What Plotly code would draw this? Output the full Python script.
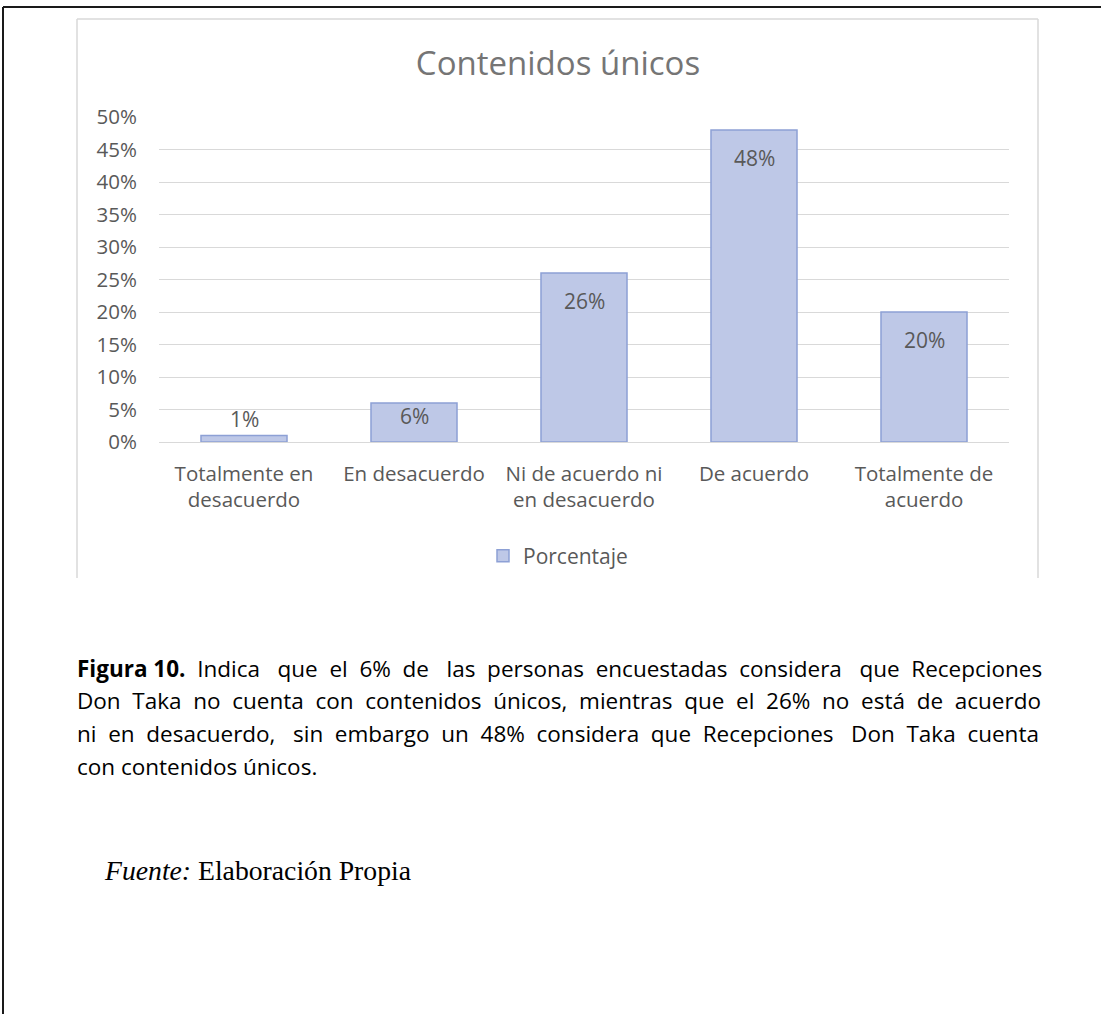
import plotly.graph_objects as go

# Survey results
categories = ["Totalmente en desacuerdo", "En desacuerdo", "Ni de acuerdo ni en desacuerdo",
              "De acuerdo", "Totalmente de acuerdo"]
tick_labels = ["Totalmente en<br>desacuerdo", "En desacuerdo", "Ni de acuerdo ni<br>en desacuerdo",
               "De acuerdo", "Totalmente de<br>acuerdo"]
porcentaje = [0.01, 0.06, 0.26, 0.48, 0.20]
y_ticks = [0, 0.05, 0.10, 0.15, 0.20, 0.25, 0.30, 0.35, 0.40, 0.45, 0.50]

title_text = "Contenidos únicos"
series_name = "Porcentaje"
caption_lines = [
    "<b>Figura 10.</b> Indica que el 6% de las personas encuestadas considera que Recepciones",
    "Don Taka no cuenta con contenidos únicos, mientras que el 26% no está de acuerdo",
    "ni en desacuerdo, sin embargo un 48% considera que Recepciones Don Taka cuenta",
    "con contenidos únicos.",
]
# extra non-breaking spaces spread over each caption line so it fills the text block
caption_padding = [14, 14, 14, 0]
source_text = "<i>Fuente:</i> Elaboración Propia"

# Page geometry (pixels)
W, H = 1101, 1014
L, R, T, B = 159, 1009, 117, 442
PW, PH = R - L, B - T
Y_MAX = 0.5


def px_x(x):
    return (x - L) / PW


def px_y(y):
    return (B - y) / PH


def justify(line, n_extra):
    """Widen the gaps of a line by spreading n_extra non-breaking spaces over them."""
    if n_extra <= 0:
        return line
    # keep the bold tag together with its words
    tokens = line.replace("<b>Figura 10.</b>", "\x00").split(" ")
    gaps = len(tokens) - 1
    out = tokens[0]
    given = 0
    for i in range(1, len(tokens)):
        target = round(n_extra * i / gaps)
        add = target - given
        given = target
        out += " " + "\u00a0" * add + tokens[i]
    return out.replace("\x00", "<b>Figura 10.</b>")


GRAY_TEXT = "#595959"
FONT = "Open Sans"

fig = go.Figure()
fig.add_trace(go.Bar(
    x=categories,
    y=porcentaje,
    name=series_name,
    marker=dict(color="#bec8e7", line=dict(color="#8da0d5", width=1.5)),
    showlegend=True,
    hoverinfo="skip",
))

annotations = []
# data labels near the top of each bar (above it when the bar is too short)
for cat, v in zip(categories, porcentaje):
    bar_px = v / Y_MAX * PH
    if bar_px >= 60:
        shift = -28
    elif bar_px >= 30:
        shift = -13
    else:
        shift = 17
    annotations.append(dict(
        x=cat, y=v, xref="x", yref="y", text=f"{round(v * 100)}%",
        showarrow=False, yanchor="middle", yshift=shift,
        font=dict(family=FONT, size=21, color=GRAY_TEXT),
    ))

# caption below the chart
for i, (line, pad) in enumerate(zip(caption_lines, caption_padding)):
    annotations.append(dict(
        x=px_x(75), y=px_y(668 + i * 32.7), xref="paper", yref="paper",
        text=justify(line, pad), showarrow=False, xanchor="left", yanchor="middle",
        font=dict(family=FONT, size=22.5, color="#000000"),
    ))
annotations.append(dict(
    x=px_x(102), y=px_y(870), xref="paper", yref="paper",
    text=source_text, showarrow=False, xanchor="left", yanchor="middle",
    font=dict(family="Liberation Serif", size=27.7, color="#000000"),
))

shapes = [
    # outer page frame (top and left edges)
    dict(type="line", xref="paper", yref="paper", x0=px_x(3), x1=px_x(W + 5),
         y0=px_y(7), y1=px_y(7), line=dict(color="#1a1a1a", width=2)),
    dict(type="line", xref="paper", yref="paper", x0=px_x(3), x1=px_x(3),
         y0=px_y(7), y1=px_y(H + 5), line=dict(color="#1a1a1a", width=2)),
    # chart area border
    dict(type="line", xref="paper", yref="paper", x0=px_x(77), x1=px_x(1038),
         y0=px_y(19), y1=px_y(19), line=dict(color="#d9d9d9", width=1.5)),
    dict(type="line", xref="paper", yref="paper", x0=px_x(77), x1=px_x(77),
         y0=px_y(19), y1=px_y(578), line=dict(color="#d9d9d9", width=1.5)),
    dict(type="line", xref="paper", yref="paper", x0=px_x(1038), x1=px_x(1038),
         y0=px_y(19), y1=px_y(578), line=dict(color="#d9d9d9", width=1.5)),
]

fig.update_layout(
    width=W, height=H,
    margin=dict(l=L, r=W - R, t=T, b=H - B, autoexpand=False),
    paper_bgcolor="#ffffff", plot_bgcolor="#ffffff",
    title=dict(text=title_text, x=558 / W, xanchor="center", xref="container",
               y=1 - 63 / H, yanchor="middle", yref="container",
               font=dict(family=FONT, size=33, color="#757575")),
    bargap=0.494,
    xaxis=dict(
        type="category", tickmode="array", tickvals=categories, ticktext=tick_labels,
        showgrid=False, showline=False, zeroline=False, ticks="",
        tickfont=dict(family=FONT, size=20.5, color=GRAY_TEXT),
        ticklabelstandoff=17,
    ),
    yaxis=dict(
        range=[0, Y_MAX], tickmode="array", tickvals=y_ticks, tickformat=".0%",
        showgrid=True, gridcolor="#d9d9d9", gridwidth=1.2,
        zeroline=True, zerolinecolor="#d9d9d9", zerolinewidth=1.2,
        showline=False, ticks="", ticklabelstandoff=21,
        tickfont=dict(family=FONT, size=20.5, color=GRAY_TEXT),
    ),
    legend=dict(
        orientation="h", x=px_x(483), xanchor="left", y=px_y(556), yanchor="middle",
        font=dict(family=FONT, size=21, color=GRAY_TEXT),
        bgcolor="rgba(0,0,0,0)",
    ),
    annotations=annotations,
    shapes=shapes,
)

fig.write_html("out.html")
